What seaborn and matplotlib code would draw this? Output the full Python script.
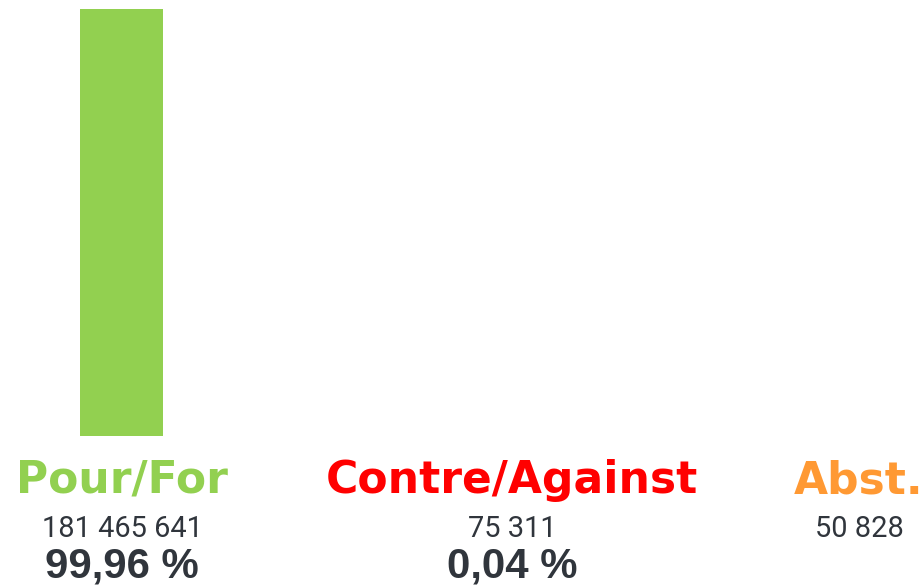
import matplotlib
matplotlib.use("Agg")
import matplotlib.pyplot as plt
import seaborn as sns
import pandas as pd

# Vote results
categories = ["Pour/For", "Contre/Against", "Abst."]
votes = [181465641, 75311, 50828]
percent = [99.96, 0.04, None]
percent_labels = ["99,96 %", "0,04 %", ""]
vote_labels = ["181 465 641", "75 311", "50 828"]
colors = ["#92d050", "#ff0000", "#ff9933"]

sns.set_theme(style="white")

DPI = 72  # 1 pt == 1 px
W, H = 924, 586
fig = plt.figure(figsize=(W / DPI, H / DPI), dpi=DPI)
base_px = 436   # bar baseline, pixels from top
top_px = 9      # top of the tallest bar
ax = fig.add_axes([0, (H - base_px) / H, 1, (base_px - top_px) / H])

df = pd.DataFrame({"cat": categories[:2], "pct": percent[:2]})
sns.barplot(data=df, x="cat", y="pct", hue="cat", palette=colors[:2],
            width=83 / 390, legend=False, ax=ax, saturation=1,
            edgecolor="#b8c1d3", linewidth=0)
# thin outline on the near-zero bar
ax.patches[1].set_linewidth(1.0)
ax.patches[1].set_edgecolor("#b8c1d3")

# map category index to pixels: centre of first column at 121.5 px, 390 px apart
x0, step = 121.5, 390
ax.set_xlim(-x0 / step, (W - x0) / step)
ax.set_ylim(0, percent[0])
ax.axis("off")

text_x_px = [122, 512, 859]
dark = "#30353c"
for i, cat in enumerate(categories):
    xd = (text_x_px[i] - x0) / step
    ax.annotate(cat, xy=(xd, 0), xytext=(0, -57), textcoords="offset points",
                ha="center", va="baseline", fontsize=44, fontweight="bold",
                family="DejaVu Sans", color=colors[i], annotation_clip=False)
    ax.annotate(vote_labels[i], xy=(xd, 0), xytext=(0, -101), textcoords="offset points",
                ha="center", va="baseline", fontsize=29, family="Roboto",
                color=dark, annotation_clip=False)
    if percent_labels[i]:
        ax.annotate(percent_labels[i], xy=(xd, 0), xytext=(0, -142), textcoords="offset points",
                    ha="center", va="baseline", fontsize=42, fontweight="bold",
                    family="Liberation Sans", color=dark, annotation_clip=False)

fig.savefig("out.png", dpi=DPI)
